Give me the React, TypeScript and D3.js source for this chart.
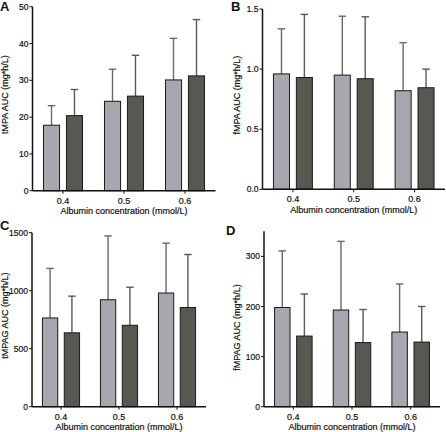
import React from "react";
import * as d3 from "d3";

const categories = ["0.4", "0.5", "0.6"];
const seriesNames = ["light", "dark"];

const aLight = [17.8, 24.3, 30.1];
const aDark = [20.4, 25.7, 31.2];
const aLightErr = [23.1, 33.0, 41.4];
const aDarkErr = [27.5, 36.8, 46.5];
const aTicks = [0, 10, 20, 30, 40, 50];

const bLight = [0.96, 0.95, 0.82];
const bDark = [0.93, 0.92, 0.845];
const bLightErr = [1.335, 1.44, 1.22];
const bDarkErr = [1.455, 1.435, 1.0];
const bTicks = [0, 0.5, 1.0, 1.5];

const cLight = [765, 922, 980];
const cDark = [637, 702, 855];
const cLightErr = [1192, 1472, 1410];
const cDarkErr = [953, 1030, 1312];
const cTicks = [0, 500, 1000, 1500];

const dLight = [198, 193, 149];
const dDark = [141, 128, 129];
const dLightErr = [311, 330, 245];
const dDarkErr = [225, 194, 200];
const dTicks = [0, 100, 200, 300];

const xTitle = "Albumin concentration (mmol/L)";

const colors = { light: "#a7a7af", dark: "#565951" };
const errColors = { light: "#6a6a6a", dark: "#5a5a5a" };
const FONT = "Liberation Sans, Arial, sans-serif";

type PanelProps = {
  letter: string;
  letterX: number;
  letterY: number;
  yTitle: string;
  yTitleX: number;
  x0: number;
  x1: number;
  yTop: number;
  yBottom: number;
  yMax: number;
  axisTop: number;
  ticks: number[];
  fmt: (v: number) => string;
  light: number[];
  dark: number[];
  lightErr: number[];
  darkErr: number[];
};

const textStyle = { fontFamily: FONT, fill: "#111", stroke: "#111", strokeWidth: 0.2 };

function Panel(p: PanelProps) {
  const y = d3.scaleLinear().domain([0, p.yMax]).range([p.yBottom, p.yTop]);
  const xo = d3
    .scaleBand<string>()
    .domain(categories)
    .range([p.x0, p.x1])
    .paddingInner(0.36)
    .paddingOuter(0.18);
  const xi = d3
    .scaleBand<string>()
    .domain(seriesNames)
    .range([0, xo.bandwidth()])
    .paddingInner(0.3);
  const series = [
    { key: "light", vals: p.light, errs: p.lightErr },
    { key: "dark", vals: p.dark, errs: p.darkErr },
  ];
  const axisTopY = y(p.axisTop);
  const capW = 7.5;
  return (
    <g>
      <text x={p.letterX} y={p.letterY} fontFamily={FONT} fontWeight="bold" fontSize={13} fill="#111">
        {p.letter}
      </text>
      {series.map((s) =>
        categories.map((c, i) => {
          const bx = (xo(c) as number) + (xi(s.key) as number);
          const bw = xi.bandwidth();
          const cx = bx + bw / 2;
          return (
            <g key={s.key + c}>
              <line
                x1={cx}
                x2={cx}
                y1={y(s.vals[i])}
                y2={y(s.errs[i])}
                stroke={(errColors as any)[s.key]}
                strokeWidth={1.4}
              />
              <line
                x1={cx - capW / 2}
                x2={cx + capW / 2}
                y1={y(s.errs[i])}
                y2={y(s.errs[i])}
                stroke={(errColors as any)[s.key]}
                strokeWidth={1.4}
              />
              <rect
                x={bx}
                y={y(s.vals[i])}
                width={bw}
                height={p.yBottom - y(s.vals[i])}
                fill={(colors as any)[s.key]}
                stroke="#1a1a1a"
                strokeWidth={1}
              />
            </g>
          );
        })
      )}
      <line x1={p.x0} x2={p.x0} y1={axisTopY} y2={p.yBottom} stroke="#111" strokeWidth={1.5} />
      {p.ticks.map((t) => (
        <g key={t}>
          <line x1={p.x0 - 3} x2={p.x0} y1={y(t)} y2={y(t)} stroke="#111" strokeWidth={1} />
          <text x={p.x0 - 4} y={y(t) + 3} textAnchor="end" fontSize={8.5} {...textStyle}>
            {p.fmt(t)}
          </text>
        </g>
      ))}
      <line x1={p.x0} x2={p.x1} y1={p.yBottom} y2={p.yBottom} stroke="#111" strokeWidth={1.5} />
      {categories.map((c) => {
        const cx = (xo(c) as number) + xo.bandwidth() / 2;
        return (
          <g key={c}>
            <line x1={cx} x2={cx} y1={p.yBottom} y2={p.yBottom + 3} stroke="#111" strokeWidth={1} />
            <text x={cx} y={p.yBottom + 13} textAnchor="middle" fontSize={9} {...textStyle}>
              {c}
            </text>
          </g>
        );
      })}
      <text x={(p.x0 + p.x1) / 2} y={p.yBottom + 23.5} textAnchor="middle" fontSize={9} {...textStyle}>
        {xTitle}
      </text>
      <text
        transform={`translate(${p.yTitleX},${(p.yTop + p.yBottom) / 2 - 4}) rotate(-90)`}
        textAnchor="middle"
        fontSize={9}
        {...textStyle}
      >
        {p.yTitle}
      </text>
    </g>
  );
}

export default function App() {
  return (
    <div style={{ position: "fixed", left: 0, top: 0 }}>
      <svg width={446} height={432} style={{ display: "block", background: "#fff" }}>
        <Panel
          letter="A"
          letterX={0}
          letterY={10.5}
          yTitle="tMPA AUC (mg*h/L)"
          yTitleX={8}
          x0={32.5}
          x1={215.5}
          yTop={6.7}
          yBottom={190.7}
          yMax={50}
          axisTop={50}
          ticks={aTicks}
          fmt={(v) => String(v)}
          light={aLight}
          dark={aDark}
          lightErr={aLightErr}
          darkErr={aDarkErr}
        />
        <Panel
          letter="B"
          letterX={231}
          letterY={10.5}
          yTitle="fMPA AUC (mg*h/L)"
          yTitleX={240}
          x0={262.5}
          x1={445}
          yTop={9}
          yBottom={189.3}
          yMax={1.5}
          axisTop={1.5}
          ticks={bTicks}
          fmt={(v) => v.toFixed(1)}
          light={bLight}
          dark={bDark}
          lightErr={bLightErr}
          darkErr={bDarkErr}
        />
        <Panel
          letter="C"
          letterX={0}
          letterY={229.5}
          yTitle="tMPAG AUC (mg*h/L)"
          yTitleX={8}
          x0={32}
          x1={206}
          yTop={232.7}
          yBottom={406.7}
          yMax={1500}
          axisTop={1500}
          ticks={cTicks}
          fmt={(v) => String(v)}
          light={cLight}
          dark={cDark}
          lightErr={cLightErr}
          darkErr={cDarkErr}
        />
        <Panel
          letter="D"
          letterX={226}
          letterY={235}
          yTitle="fMPAG AUC (mg*h/L)"
          yTitleX={240}
          x0={264}
          x1={440}
          yTop={256.4}
          yBottom={406.7}
          yMax={300}
          axisTop={350}
          ticks={dTicks}
          fmt={(v) => String(v)}
          light={dLight}
          dark={dDark}
          lightErr={dLightErr}
          darkErr={dDarkErr}
        />
      </svg>
    </div>
  );
}
